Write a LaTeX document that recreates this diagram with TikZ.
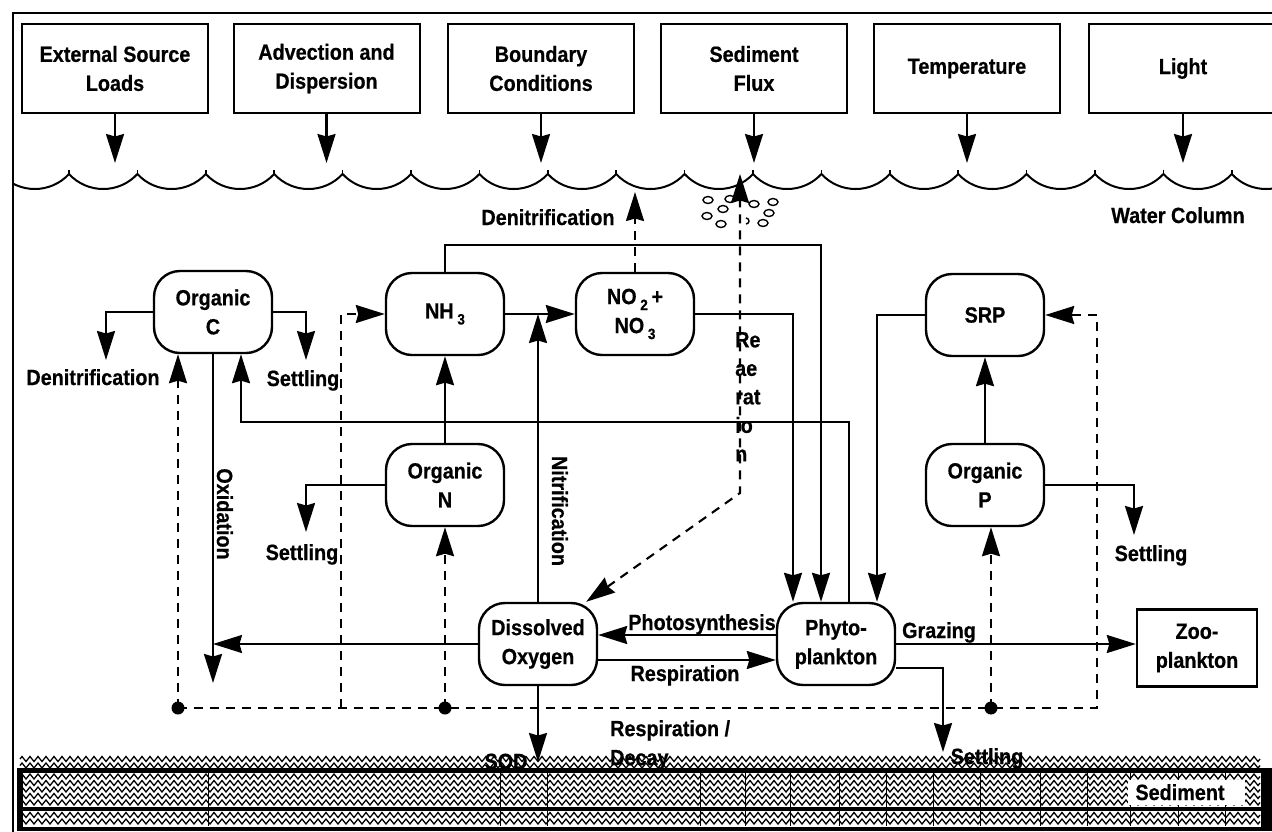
\documentclass[tikz,border=0pt]{standalone}
\usepackage{fontspec}
\setmainfont{Liberation Sans}[FakeStretch=0.9, BoldFeatures={FakeBold=0.6}]
\usetikzlibrary{arrows.meta,decorations.pathmorphing,calc}
\newcommand{\lowdig}[1]{\,\raisebox{-6pt}{\fontsize{15}{15}\selectfont #1}}
\begin{document}
\begin{tikzpicture}[x=1pt,y=-1pt,
  every node/.style={font=\bfseries\fontsize{22}{29}\selectfont, inner sep=0pt},
  >={Stealth[length=29pt,width=18pt,inset=2.5pt]},
  proc/.style={draw, line width=2.4pt, rounded corners=26pt, minimum width=118pt, minimum height=82pt, align=center},
  topbox/.style={draw, line width=2pt, minimum width=186pt, minimum height=89pt, align=center},
  arr/.style={line width=2.1pt, ->},
  darr/.style={arr, dash pattern=on 9pt off 7pt},
  lbl/.style={text height=16pt, text depth=0pt},
  zz/.style={line width=1.3pt, decorate, decoration={zigzag, segment length=8pt, amplitude=2.5pt}},
  bub/.style={line width=1.4pt}
]
\clip (0,0) rectangle (1272,831);
\fill[white] (0,0) rectangle (1272,831);

% frame
\draw[line width=2pt] (13,835) -- (13,13) -- (1280,13);

% water surface
\begin{scope}
\clip (14,0) rectangle (1272,831);
\foreach \i in {0,...,18}{
  \draw[line width=2pt] ({0.6+68.4*\i},174) .. controls ({19+68.4*\i},194) and ({50.6+68.4*\i},194) .. ({69+68.4*\i},174);
  \draw[line width=1.5pt] ({69+68.4*\i},174) -- ({69+68.4*\i},170);
}
\end{scope}

% sediment
\fill[black] (17,768) rectangle (1280,831);
\fill[white] (23,773) rectangle (1261,806.5);
\fill[white] (23,811) rectangle (1261,826.5);
\foreach \yy in {759,765.5,776.5,783,789.5,796,802.5,815,821.5}
  \draw[zz] (20,\yy) -- (1260,\yy);
\foreach \xx in {208,500,547,700,745,790,839,886,933,980,1040,1087,1130,1178,1225}
  \draw[line width=0.7pt] (\xx,773) -- (\xx,826);
\fill[white] (1128,780) rectangle (1245,805);
\node[lbl] (lsed) at (1180,792) {Sediment};

% bubbles
\foreach \bx/\by in {708/200,730/199,723/209,707/216,721/224,754/204,773/202,769/213,763/223}
  \draw[bub] (\bx,\by) ellipse [x radius=5pt, y radius=3.5pt];
\draw[bub] (746,218) arc[start angle=90, end angle=-90, radius=3pt];

% top boxes
\node[topbox] (t1) at (115,68.5) {External Source\\Loads};
\node[topbox] (t2) at (326.5,68.5) {Advection and\\Dispersion};
\node[topbox] (t3) at (541,68.5) {Boundary\\Conditions};
\node[topbox] (t4) at (754,68.5) {Sediment\\Flux};
\node[topbox] (t5) at (967,68.5) {Temperature};
\node[topbox, minimum width=188pt] (t6) at (1183,68.5) {Light};
\coordinate (wv) at (0,163);
\foreach \n in {t1,t2,t3,t4,t5,t6}
  \draw[arr] (\n.south) -- (\n.south |- wv);

% process nodes
\node[proc] (oc) at (213,312) {Organic\\C};
\node[proc] (nh) at (445,314) {NH\lowdig{3}};
\node[proc] (no) at (635,314) {NO\lowdig{2}\,+\\NO\lowdig{3}};
\node[proc] (srp) at (985,315) {SRP};
\node[proc] (on) at (445,485) {Organic\\N};
\node[proc] (op) at (985,485) {Organic\\P};
\node[proc] (do) at (538,644) {Dissolved\\Oxygen};
\node[proc] (ph) at (836,644) {Phyto-\\plankton};
\node[draw, line width=2.4pt, minimum width=120pt, minimum height=77pt, align=center] (zoo) at (1197,648) {Zoo-\\plankton};

% coordinates
\coordinate (cDen) at (106,360);
\coordinate (cSetC) at (306,360);
\coordinate (ox) at (213,683);
\coordinate (pc) at (849,422);
\coordinate (k1) at (241,422);
\coordinate (r1) at (821,245);
\coordinate (r2) at (793,0);
\coordinate (r3) at (877,0);
\coordinate (cSetN) at (306,532);
\coordinate (ra) at (740,493);
\coordinate (surf) at (740,174);
\coordinate (dn) at (0,192);
\coordinate (yps) at (0,635);
\coordinate (yres) at (0,660);
\coordinate (sod) at (0,762);
\coordinate (s3) at (943,752);
\coordinate (s4) at (1134,535);
\coordinate (d1) at (178,708);
\coordinate (d2) at (445,708);
\coordinate (d3) at (991,708);
\coordinate (dL) at (341,708);
\coordinate (dR) at (1097,708);

% solid connectors
\draw[arr] (oc.west) -| (cDen);
\draw[arr] (oc.east) -| (cSetC);
\draw[arr] (oc.south) -- (ox);
\draw[arr] (do.west) -- (do.west -| ox);
\draw[arr] (ph.north -| pc) -- (pc) -- (k1) -- (oc.south -| k1);
\draw[arr] (nh.north) -- (nh.north |- r1) -- (r1) -- (ph.north -| r1);
\draw[arr] (no.east) -- (no.east -| r2) -- (ph.north -| r2);
\draw[arr] (srp.west) -- (srp.west -| r3) -- (ph.north -| r3);
\draw[arr] (on.north) -- (nh.south);
\draw[arr] (on.west) -| (cSetN);
\draw[arr] (nh.east) -- (no.west);
\draw[arr] (do.north) -- (do.north |- nh.east);
\draw[arr] (ph.west |- yps) -- (do.east |- yps);
\draw[arr] (do.east |- yres) -- (ph.west |- yres);
\draw[arr] (do.south) -- (do.south |- sod);
\draw[arr] (ph.east) -- (ph.east -| zoo.west);
\draw[arr] ([yshift=-24pt]ph.east) -| (s3);
\draw[arr] (op.east) -| (s4);
\draw[arr] (op.north) -- (srp.south);

% dashed connectors
\draw[darr, <->] ([xshift=-12pt]do.north east) -- (ra) -- (surf);
\draw[darr] (no.north) -- (no.north |- dn);
\draw[darr] (d1) -- (dR) -- (dR |- srp.east) -- (srp.east);
\draw[darr] (d1) -- (d1 |- oc.south);
\draw[darr] (d2) -- (on.south);
\draw[darr] (d3) -- (d3 |- op.south);
\draw[darr] (dL) -- (dL |- nh.west) -- (nh.west);
\foreach \d in {d1,d2,d3} \fill (\d) circle (6.5pt);

% labels
\node[lbl] (lden) at (93,377) {Denitrification};
\node[lbl] (lsc) at (303,378) {Settling};
\node[lbl, rotate=-90] (lox) at (225,514) {Oxidation};
\node[lbl] (lsn) at (302,552) {Settling};
\node[lbl, rotate=-90] (lni) at (560,511) {Nitrification};
\node[anchor=north west, align=left, font=\bfseries\fontsize{22}{28.5}\selectfont] (lre) at (735,332) {Re\\ae\\rat\\io\\n};
\node[lbl] (lph) at (702,622) {Photosynthesis};
\node[lbl] (lres) at (685,673) {Respiration};
\node[lbl] (lgr) at (939,630) {Grazing};
\node[lbl] (lsp) at (987,756) {Settling};
\node[lbl] (lsp2) at (1151,553) {Settling};
\node[lbl] (lsod) at (506,761) {SOD};
\node[anchor=north west, align=left] (lrd) at (610,720) {Respiration /\\Decay};
\node[lbl] (lwc) at (1178,215) {Water Column};
\node[lbl] (ldn) at (548,217) {Denitrification};
\end{tikzpicture}
\end{document}
